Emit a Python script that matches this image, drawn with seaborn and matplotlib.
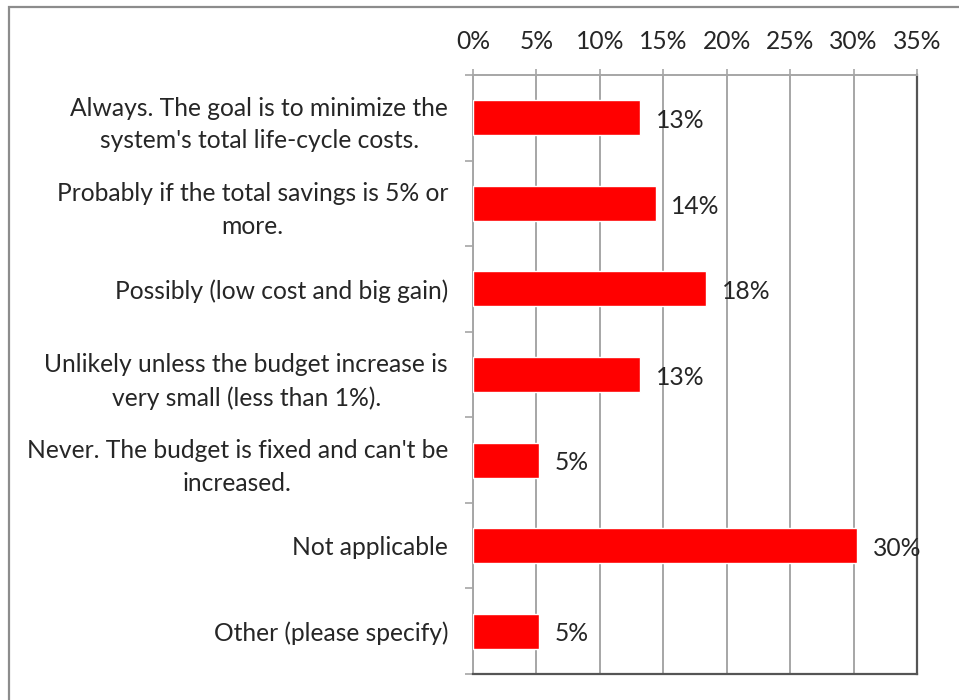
import matplotlib
matplotlib.use("Agg")
import matplotlib.pyplot as plt
from matplotlib.patches import Rectangle
from matplotlib.ticker import FixedLocator, PercentFormatter
import numpy as np
import pandas as pd
import seaborn as sns

# Survey answers and the share of respondents for each
categories = [
    "Always. The goal is to minimize the\nsystem's total life-cycle costs.",
    "Probably if the total savings is 5% or\nmore.",
    "Possibly (low cost and big gain)",
    "Unlikely unless the budget increase is\nvery small (less than 1%).",
    "Never. The budget is fixed and can't be\nincreased.",
    "Not applicable",
    "Other (please specify)",
]
shares = [13.2, 14.4, 18.4, 13.2, 5.2, 30.3, 5.2]
x_ticks = [0, 5, 10, 15, 20, 25, 30, 35]

sns.set_style("white")
plt.rcParams["font.family"] = ["Lato", "DejaVu Sans"]

TEXT = "#262626"
GRID = "#a6a6a6"
FS = 17.7

df = pd.DataFrame({"answer": categories, "share": shares})

fig = plt.figure(figsize=(9.59, 7.0), dpi=100)
ax = fig.add_axes([473 / 959, 1 - 674 / 700, (917 - 473) / 959, (674 - 75) / 700])

sns.barplot(data=df, x="share", y="answer", orient="h", color="#ff0000",
            saturation=1, width=0.41, ax=ax, zorder=3)

ax.set_xlim(0, 35)
ax.xaxis.set_major_locator(FixedLocator(x_ticks))
ax.xaxis.set_major_formatter(PercentFormatter(decimals=0))
ax.xaxis.tick_top()
ax.grid(axis="x", color=GRID, linewidth=1.4, zorder=0)
ax.set_axisbelow(True)
ax.tick_params(axis="x", which="major", top=True, bottom=False, direction="out",
               length=4, width=1.2, color=GRID, pad=12, labelsize=FS,
               labelcolor=TEXT)

# category labels with ticks at the boundaries between bars
ax.tick_params(axis="y", which="major", length=0, pad=18, labelsize=FS,
               labelcolor=TEXT)
ax.yaxis.set_minor_locator(FixedLocator(np.arange(-0.5, len(categories), 1.0)))
ax.tick_params(axis="y", which="minor", left=True, direction="out", length=6,
               width=1.2, color=GRID)
for lab in ax.get_yticklabels():
    lab.set_multialignment("center")
    lab.set_linespacing(1.5)

ax.set_xlabel("")
ax.set_ylabel("")

for side in ("left", "top"):
    ax.spines[side].set_color(GRID)
    ax.spines[side].set_linewidth(1.4)
for side in ("right", "bottom"):
    ax.spines[side].set_color("#555555")
    ax.spines[side].set_linewidth(1.6)

value_labels = ax.bar_label(ax.containers[0], labels=[f"{v:.0f}%" for v in shares],
                            padding=11, fontsize=FS, color=TEXT)
for t in value_labels:
    t.set_y(-2)

# frame around the whole chart
fig.patches.append(Rectangle((9 / 959, -0.1), 1.2, 1.1 - 7 / 700,
                             transform=fig.transFigure, fill=False,
                             edgecolor="#8c8c8c", linewidth=1.6))

fig.savefig("out.png", dpi=100)
